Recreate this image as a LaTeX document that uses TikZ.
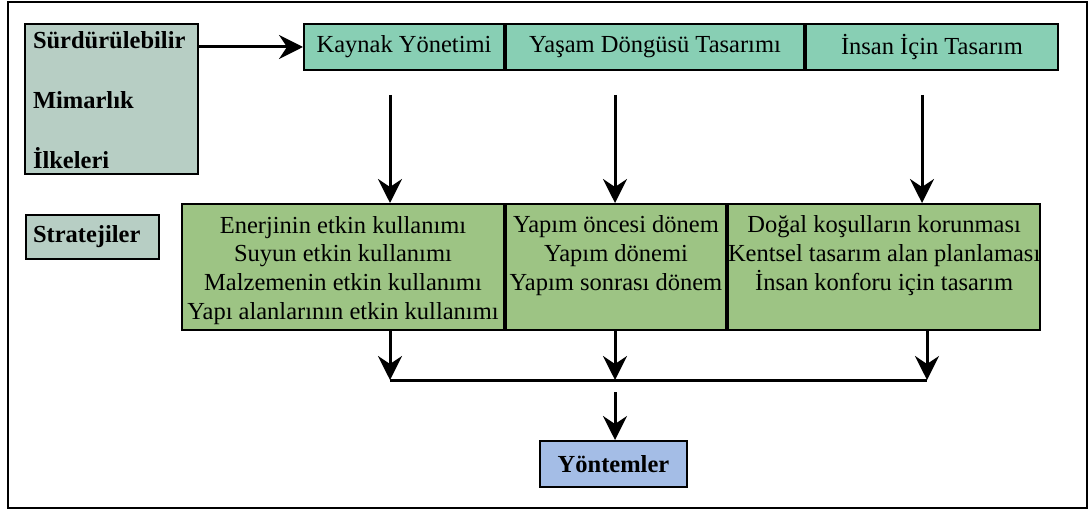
\documentclass[tikz,border=0pt]{standalone}
\usepackage{fontspec}
\setmainfont{Liberation Serif}
\usetikzlibrary{arrows.meta}
\definecolor{ilkegray}{HTML}{B7CEC4}
\definecolor{yonteal}{HTML}{88CFB4}
\definecolor{strgreen}{HTML}{9DC484}
\definecolor{metblue}{HTML}{A4BDE6}
\begin{document}
\begin{tikzpicture}[x=0.5pt,y=-0.5pt,
  box/.style={draw,line width=1pt,inner sep=0pt},
  txt/.style={font=\fontsize{12.25}{14.5}\selectfont},
  arr/.style={line width=1.5pt,-{Stealth[length=12pt,width=12pt,inset=4pt]}}]
  \useasboundingbox (0,0) rectangle (1092,513);
  \draw[line width=1.2pt] (8,2) rectangle (1087,508);
  % left labels
  \node[box,fill=ilkegray,anchor=north west,inner xsep=4pt,text width=78.5pt,
    text height=12.5pt,text depth=62.5pt,align=left,
    font=\fontsize{12.25}{30}\selectfont\bfseries] (ilke) at (24,23)
    {Sürdürülebilir\\Mimarlık\\İlkeleri};
  \node[box,fill=ilkegray,anchor=north west,inner xsep=3.5pt,text width=59.5pt,
    minimum height=22pt,align=left,font=\fontsize{12.25}{14.5}\selectfont\bfseries]
    (str) at (25,214) {Stratejiler};
  % top row
  \node[box,txt,fill=yonteal,anchor=north west,minimum width=100pt,minimum height=23pt]
    (k1) at (303,23) {Kaynak Yönetimi};
  \node[box,txt,fill=yonteal,anchor=north west,minimum width=149pt,minimum height=23pt]
    (k2) at (k1.north east) {Yaşam Döngüsü Tasarımı};
  \node[box,txt,fill=yonteal,anchor=north west,minimum width=126pt,minimum height=23pt]
    (k3) at (k2.north east) {İnsan İçin Tasarım};
  % strategies
  \node[box,txt,fill=strgreen,anchor=north west,minimum width=161pt,align=center,
    text height=58pt,text depth=5pt] (s1) at (181,203)
    {Enerjinin etkin kullanımı\\Suyun etkin kullanımı\\Malzemenin etkin kullanımı\\Yapı alanlarının etkin kullanımı};
  \node[box,txt,fill=strgreen,anchor=north west,minimum width=110pt,align=center,
    text height=43.5pt,text depth=19.5pt] (s2) at (s1.north east)
    {Yapım öncesi dönem\\Yapım dönemi\\Yapım sonrası dönem};
  \node[box,txt,fill=strgreen,anchor=north west,minimum width=156pt,align=center,
    text height=43.5pt,text depth=19.5pt] (s3) at (s2.north east)
    {Doğal koşulların korunması\\Kentsel tasarım alan planlaması\\İnsan konforu için tasarım};
  % methods
  \node[box,fill=metblue,minimum width=73.5pt,minimum height=23pt,
    font=\fontsize{12.25}{14.5}\selectfont\bfseries] (yon) at (613.5,464) {Yöntemler};
  \coordinate (c1) at (390,95);
  \coordinate (c2) at (615,95);
  \coordinate (c3) at (922,95);
  \coordinate (j1) at (390,380);
  \coordinate (j2) at (615,380);
  \coordinate (j3) at (927,380);
  \coordinate (c4) at (615,392);
  \draw[arr] (ilke.east |- k1.west) -- (k1.west);
  \foreach \c in {c1,c2,c3}
    \draw[arr] (\c) -- (\c |- s1.north);
  \foreach \j in {j1,j2,j3}
    \draw[arr] (\j |- s1.south) -- (\j);
  \draw[line width=1.5pt] (j1) -- (j3);
  \draw[arr] (c4) -- (c4 |- yon.north);
\end{tikzpicture}
\end{document}
